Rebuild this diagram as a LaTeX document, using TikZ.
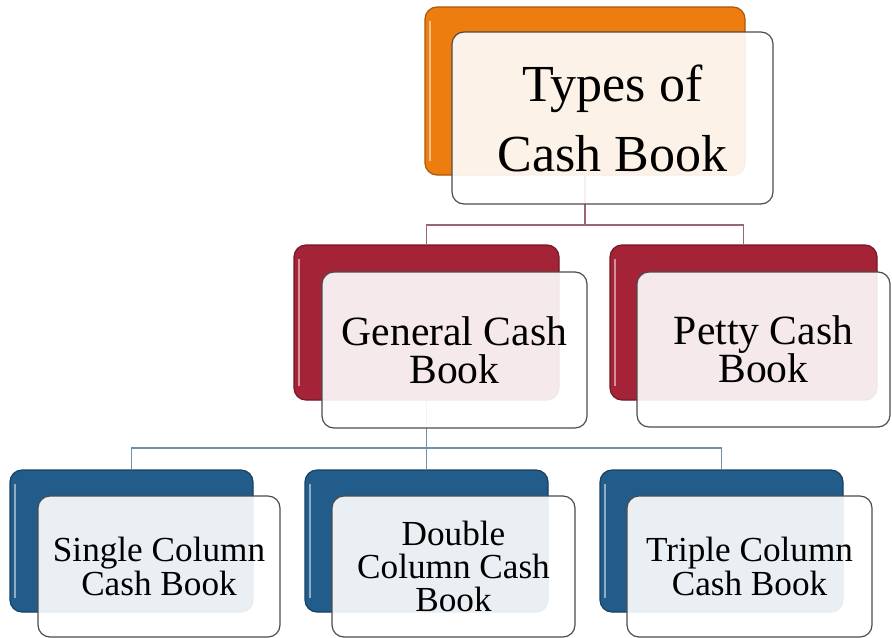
\documentclass[tikz,border=0pt]{standalone}
\usepackage{fontspec}
\setmainfont{Liberation Serif}
\definecolor{bookorange}{HTML}{EE7D10}
\definecolor{bookred}{HTML}{A52336}
\definecolor{bookblue}{HTML}{225C8B}
\definecolor{redlink}{HTML}{9A6676}
\definecolor{bluelink}{HTML}{7090A8}
\tikzset{
  backbox/.style={draw=#1!70!black, fill=#1, rounded corners=6pt, inner sep=0pt, line width=0.6pt,
    path picture={\draw[#1!50!white, line width=1.2pt]
      ([xshift=2.5pt,yshift=-7pt]path picture bounding box.north west) --
      ([xshift=2.5pt,yshift=7pt]path picture bounding box.south west);}},
  frontbox/.style={draw=black!70, fill=white, fill opacity=0.9, text opacity=1, rounded corners=6pt,
    inner sep=0pt, align=center, line width=0.6pt},
  link/.style={draw=#1, line width=0.6pt},
}

\begin{document}
\begin{tikzpicture}[x=0.5pt,y=-0.5pt]
\useasboundingbox (0,0) rectangle (892,637);
% back boxes
\node[backbox=bookorange, minimum width=160pt, minimum height=84pt] (topback) at (585,91) {};
\node[backbox=bookred, minimum width=132.5pt, minimum height=77.5pt] (genback) at (426.5,322.5) {};
\node[backbox=bookred, minimum width=133.5pt, minimum height=77.5pt] (pettyback) at (743.5,322.5) {};
\node[backbox=bookblue, minimum width=121.5pt, minimum height=71pt] (singleback) at (131.5,541) {};
\node[backbox=bookblue, minimum width=121.5pt, minimum height=71pt] (doubleback) at (426.5,541) {};
\node[backbox=bookblue, minimum width=121.5pt, minimum height=71pt] (tripleback) at (721.5,541) {};
% links
\coordinate (j1) at (585,225);
\coordinate (j2) at (426.5,448);
\draw[link=redlink] (topback.south) -- (j1) -| (genback.north);
\draw[link=redlink] (j1) -| (pettyback.north);
\draw[link=bluelink] (genback.south) -- (j2) -| (singleback.north);
\draw[link=bluelink] (j2) -| (tripleback.north);
\draw[link=bluelink] (j2) -- (doubleback.north);
% front boxes
\node[frontbox, minimum width=160.5pt, minimum height=86pt, font=\fontsize{26}{35}\selectfont]
  (top) at (612.5,118) {Types of\\Cash Book};
\node[frontbox, minimum width=132.5pt, minimum height=78pt, font=\fontsize{20.8}{19}\selectfont]
  (gen) at (454.5,350) {General Cash\\Book};
\node[frontbox, minimum width=126.5pt, minimum height=77.5pt, font=\fontsize{20.8}{19}\selectfont]
  (petty) at (763.5,349.5) {Petty Cash\\Book};
\node[frontbox, minimum width=121pt, minimum height=70.5pt, font=\fontsize{17.6}{17}\selectfont]
  (single) at (159,566.5) {Single Column\\Cash Book};
\node[frontbox, minimum width=121.5pt, minimum height=70.5pt, font=\fontsize{17.6}{16.5}\selectfont]
  (double) at (453.5,566.5) {Double\\Column Cash\\Book};
\node[frontbox, minimum width=122.5pt, minimum height=70.5pt, font=\fontsize{17.6}{17}\selectfont]
  (triple) at (749.5,566.5) {Triple Column\\Cash Book};
\end{tikzpicture}
\end{document}
